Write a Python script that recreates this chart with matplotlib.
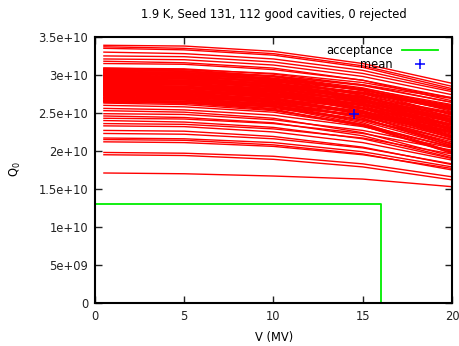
import numpy as np
import matplotlib
matplotlib.use("Agg")
import matplotlib.pyplot as plt

# voltage points at which each cavity's Q0 is read (MV)
v_pts = [0.5, 5, 10, 15, 20]

# Q0 of each of the 112 cavities (units of 1e10), one list per voltage point
q_v05 = [3.39, 3.37, 3.35, 3.30, 3.25, 3.21, 3.18, 3.15,
         3.09, 3.09, 3.08, 3.07, 3.07, 3.06, 3.05, 3.05, 3.04, 3.03, 3.03, 3.02, 3.01, 3.01, 3.00,
         2.99, 2.99, 2.98, 2.97, 2.97, 2.96, 2.95, 2.95, 2.94, 2.93, 2.93, 2.92, 2.91, 2.91, 2.90,
         2.89, 2.89, 2.88, 2.87, 2.87, 2.86, 2.85, 2.85, 2.84, 2.83, 2.83, 2.82, 2.81, 2.81, 2.80,
         2.79, 2.79, 2.78, 2.77, 2.77, 2.76, 2.75, 2.75, 2.74, 2.73, 2.73, 2.72, 2.71, 2.71, 2.70,
         2.69, 2.69, 2.68, 2.67, 2.67, 2.66, 2.65, 2.65, 2.64, 2.63,
         3.06, 3.02, 2.98, 2.96, 2.94, 2.92, 2.90, 2.88, 2.86, 2.84, 2.82, 2.80, 2.78, 2.76, 2.74, 2.70, 2.66,
         2.60, 2.56, 2.53, 2.49, 2.46, 2.43, 2.40, 2.36, 2.33, 2.27, 2.23, 2.17, 2.15, 2.12, 1.98, 1.95, 1.71]
q_v5 = [3.38, 3.35, 3.33, 3.28, 3.24, 3.20, 3.16, 3.14,
        3.08, 3.07, 3.07, 3.05, 3.05, 3.05, 3.03, 3.03, 3.03, 3.01, 3.02, 3.00, 3.00, 2.99, 2.98,
        2.98, 2.97, 2.97, 2.95, 2.95, 2.95, 2.93, 2.93, 2.93, 2.91, 2.92, 2.90, 2.90, 2.89, 2.88,
        2.88, 2.87, 2.87, 2.85, 2.85, 2.85, 2.83, 2.83, 2.83, 2.81, 2.82, 2.80, 2.80, 2.79, 2.78,
        2.78, 2.77, 2.77, 2.75, 2.75, 2.75, 2.73, 2.73, 2.73, 2.71, 2.72, 2.70, 2.70, 2.69, 2.68,
        2.68, 2.67, 2.67, 2.65, 2.65, 2.65, 2.63, 2.63, 2.63, 2.61,
        3.05, 3.01, 2.96, 2.95, 2.92, 2.91, 2.88, 2.87, 2.84, 2.83, 2.80, 2.79, 2.76, 2.74, 2.72, 2.68, 2.65,
        2.58, 2.54, 2.51, 2.48, 2.44, 2.42, 2.38, 2.35, 2.32, 2.26, 2.22, 2.16, 2.14, 2.11, 1.97, 1.94, 1.70]
q_v10 = [3.31, 3.28, 3.26, 3.21, 3.17, 3.13, 3.09, 3.07,
         3.01, 2.98, 3.02, 2.98, 2.95, 2.99, 2.96, 2.94, 2.98, 2.93, 2.95, 2.90, 2.94, 2.92, 2.90,
         2.91, 2.88, 2.92, 2.88, 2.85, 2.89, 2.86, 2.84, 2.88, 2.83, 2.85, 2.80, 2.84, 2.82, 2.80,
         2.81, 2.78, 2.82, 2.78, 2.75, 2.79, 2.76, 2.74, 2.78, 2.73, 2.75, 2.70, 2.74, 2.72, 2.70,
         2.71, 2.68, 2.72, 2.68, 2.65, 2.69, 2.66, 2.64, 2.68, 2.63, 2.65, 2.60, 2.64, 2.62, 2.60,
         2.61, 2.58, 2.62, 2.58, 2.55, 2.59, 2.56, 2.54, 2.58, 2.53,
         2.98, 2.94, 2.87, 2.89, 2.85, 2.86, 2.78, 2.80, 2.75, 2.77, 2.73, 2.74, 2.68, 2.67, 2.64, 2.58, 2.59,
         2.51, 2.47, 2.43, 2.41, 2.37, 2.36, 2.31, 2.29, 2.25, 2.19, 2.16, 2.11, 2.08, 2.06, 1.93, 1.89, 1.67]
q_v15 = [3.15, 3.12, 3.10, 3.06, 3.02, 2.98, 2.93, 2.93,
         2.87, 2.79, 2.90, 2.81, 2.73, 2.86, 2.81, 2.73, 2.87, 2.75, 2.80, 2.67, 2.82, 2.76, 2.71,
         2.77, 2.69, 2.80, 2.71, 2.63, 2.76, 2.71, 2.63, 2.77, 2.65, 2.70, 2.57, 2.72, 2.66, 2.61,
         2.67, 2.59, 2.70, 2.61, 2.53, 2.66, 2.61, 2.53, 2.67, 2.55, 2.60, 2.47, 2.62, 2.56, 2.51,
         2.57, 2.49, 2.60, 2.51, 2.43, 2.56, 2.51, 2.43, 2.57, 2.45, 2.50, 2.37, 2.52, 2.46, 2.41,
         2.47, 2.39, 2.50, 2.41, 2.33, 2.46, 2.41, 2.33, 2.47, 2.35,
         2.83, 2.80, 2.66, 2.77, 2.68, 2.75, 2.56, 2.65, 2.56, 2.64, 2.57, 2.62, 2.50, 2.52, 2.45, 2.35, 2.47,
         2.34, 2.32, 2.24, 2.27, 2.20, 2.23, 2.16, 2.17, 2.11, 2.05, 2.04, 1.99, 1.96, 1.95, 1.83, 1.79, 1.63]
q_v20 = [2.89, 2.85, 2.82, 2.80, 2.78, 2.74, 2.66, 2.70,
         2.64, 2.47, 2.70, 2.52, 2.37, 2.64, 2.55, 2.39, 2.69, 2.45, 2.55, 2.29, 2.61, 2.48, 2.40,
         2.54, 2.37, 2.60, 2.42, 2.27, 2.54, 2.45, 2.29, 2.59, 2.35, 2.45, 2.19, 2.51, 2.38, 2.30,
         2.44, 2.27, 2.50, 2.32, 2.17, 2.44, 2.35, 2.19, 2.49, 2.25, 2.35, 2.09, 2.41, 2.28, 2.20,
         2.34, 2.17, 2.40, 2.22, 2.07, 2.34, 2.25, 2.09, 2.39, 2.15, 2.25, 1.99, 2.31, 2.18, 2.10,
         2.24, 2.07, 2.30, 2.12, 1.97, 2.24, 2.15, 1.99, 2.29, 2.05,
         2.58, 2.57, 2.32, 2.56, 2.39, 2.57, 2.20, 2.40, 2.24, 2.42, 2.29, 2.42, 2.20, 2.26, 2.14, 1.97, 2.26,
         2.05, 2.06, 1.93, 2.04, 1.91, 2.01, 1.90, 1.96, 1.88, 1.82, 1.83, 1.79, 1.75, 1.77, 1.66, 1.62, 1.53]

# acceptance box and mean point
acc_v = [0, 16, 16]
acc_q = [1.3e10, 1.3e10, 0]
mean_v = [14.5]
mean_q = [2.48e10]

yticks = [0, 5e9, 1e10, 1.5e10, 2e10, 2.5e10, 3e10, 3.5e10]
ytick_labels = ["0", "5e+09", "1e+10", "1.5e+10", "2e+10", "2.5e+10", "3e+10", "3.5e+10"]
xticks = [0, 5, 10, 15, 20]

plt.rcParams["font.family"] = "DejaVu Sans"
plt.rcParams["font.size"] = 8.3

fig = plt.figure(figsize=(4.6, 3.46), dpi=100)
ax = fig.add_axes([0.2065, 0.1243, 0.776, 0.769])

q_all = np.vstack([q_v05, q_v5, q_v10, q_v15, q_v20]) * 1e10
for i in range(q_all.shape[1]):
    ax.plot(v_pts, q_all[:, i], color="#ff0000", lw=1.0)

ax.plot(acc_v, acc_q, color="#00ee00", lw=1.3, label="acceptance")
ax.plot(mean_v, mean_q, "+", color="#0000ff", ms=7, mew=1.1, label="mean")

ax.set_xlim(0, 20)
ax.set_ylim(0, 3.5e10)
ax.set_xticks(xticks)
ax.set_xticklabels([str(t) for t in xticks])
ax.set_yticks(yticks)
ax.set_yticklabels(ytick_labels)
ax.tick_params(direction="in", top=True, right=True, length=5, width=1, pad=5, colors="#222222")
for s in ax.spines.values():
    s.set_linewidth(1.5)

ax.legend(loc="upper right", bbox_to_anchor=(0.98, 1.0), frameon=False, markerfirst=False,
          handlelength=3.1, borderaxespad=0.2, handletextpad=0.8, labelspacing=0.1)

fig.text(0.595, 0.957, "1.9 K, Seed 131, 112 good cavities, 0 rejected", ha="center", va="center")
fig.text(0.033, 0.51, r"Q$_0$", rotation=90, ha="center", va="center")
fig.text(0.595, 0.024, "V (MV)", ha="center", va="center")

fig.savefig("out.png", dpi=100)
